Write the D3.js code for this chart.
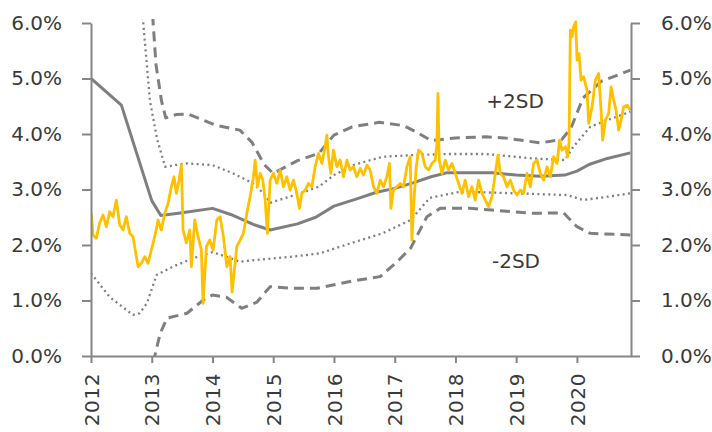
<!DOCTYPE html>
<html>
<head>
<meta charset="utf-8">
<script src="https://cdn.jsdelivr.net/npm/d3@7/dist/d3.min.js"></script>
<style>
  body { margin: 0; background: #fff; }
  text { font-family: "DejaVu Sans", sans-serif; fill: #3a3a3a; }
</style>
</head>
<body>
<div id="chart"></div>
<script>
var width = 712, height = 432;

// x ticks (years) and y ticks (percent)
var yearTicks = [2012, 2013, 2014, 2015, 2016, 2017, 2018, 2019, 2020];
var pctTicks = [0, 1, 2, 3, 4, 5, 6];

// rolling mean and bands, [decimal year, %]
var meanLine = [[2012.0, 5.00], [2012.5, 4.52], [2013.0, 2.80], [2013.15, 2.53], [2013.5, 2.58],
  [2014.0, 2.66], [2014.3, 2.55], [2014.7, 2.36], [2014.95, 2.27], [2015.4, 2.38], [2015.7, 2.50],
  [2016.0, 2.70], [2016.4, 2.84], [2016.7, 2.95], [2017.0, 3.02], [2017.3, 3.12], [2017.6, 3.23],
  [2017.85, 3.30], [2018.2, 3.30], [2018.6, 3.30], [2019.0, 3.26], [2019.4, 3.24], [2019.8, 3.26],
  [2020.0, 3.33], [2020.2, 3.45], [2020.5, 3.56], [2020.88, 3.66]];

var plus2SD = [[2012.98, 7.0], [2013.02, 6.05], [2013.07, 5.25], [2013.16, 4.6], [2013.23, 4.29],
  [2013.4, 4.35], [2013.6, 4.36], [2014.05, 4.16], [2014.45, 4.07], [2014.65, 3.85], [2014.85, 3.45],
  [2015.0, 3.29], [2015.4, 3.52], [2015.75, 3.65], [2016.0, 3.98], [2016.3, 4.13], [2016.75, 4.21],
  [2017.15, 4.15], [2017.35, 4.04], [2017.6, 3.88], [2018.0, 3.93], [2018.5, 3.95], [2018.8, 3.93],
  [2019.4, 3.84], [2019.75, 3.9], [2019.9, 4.1], [2020.1, 4.65], [2020.4, 4.95], [2020.88, 5.15]];

var plus1SD = [[2012.83, 6.3], [2012.86, 6.0], [2012.97, 4.6], [2013.09, 3.9], [2013.22, 3.41],
  [2013.58, 3.47], [2014.0, 3.44], [2014.34, 3.29], [2014.67, 3.11], [2014.84, 2.93], [2014.95, 2.76],
  [2015.44, 2.93], [2015.75, 3.05], [2016.0, 3.26], [2016.32, 3.44], [2016.8, 3.59], [2017.3, 3.62],
  [2017.9, 3.64], [2018.5, 3.64], [2019.28, 3.56], [2019.8, 3.53], [2019.94, 3.77], [2020.22, 4.13],
  [2020.5, 4.25], [2020.88, 4.4]];

var minus1SD = [[2012.0, 1.49], [2012.31, 1.06], [2012.69, 0.74], [2012.8, 0.77], [2012.92, 0.95],
  [2013.08, 1.46], [2013.35, 1.61], [2013.68, 1.76], [2014.0, 1.87], [2014.23, 1.79], [2014.45, 1.70],
  [2015.0, 1.76], [2015.4, 1.80], [2015.77, 1.85], [2016.3, 2.04], [2016.8, 2.21], [2017.26, 2.45],
  [2017.58, 2.85], [2018.08, 2.96], [2018.74, 2.94], [2019.84, 2.90], [2020.1, 2.81], [2020.5, 2.87],
  [2020.88, 2.93]];

var minus2SD = [[2013.0, -0.4], [2013.05, 0], [2013.14, 0.41], [2013.25, 0.68], [2013.58, 0.77],
  [2013.85, 1.01], [2014.0, 1.10], [2014.23, 1.06], [2014.48, 0.86], [2014.73, 0.97], [2014.95, 1.25],
  [2015.28, 1.22], [2015.72, 1.22], [2016.3, 1.35], [2016.76, 1.43], [2017.04, 1.70], [2017.26, 1.94],
  [2017.53, 2.51], [2017.75, 2.66], [2018.24, 2.66], [2018.6, 2.63], [2019.28, 2.57], [2019.78, 2.58],
  [2020.0, 2.33], [2020.22, 2.21], [2020.88, 2.18]];

// the actual series (gold)
var actual = [[2012.005, 2.57], [2012.033, 2.18], [2012.087, 2.12], [2012.143, 2.40], [2012.198, 2.54],
  [2012.252, 2.33], [2012.308, 2.60], [2012.362, 2.51], [2012.417, 2.81], [2012.473, 2.36], [2012.527, 2.27],
  [2012.582, 2.51], [2012.638, 2.21], [2012.692, 2.15], [2012.774, 1.61], [2012.829, 1.67], [2012.885, 1.79],
  [2012.939, 1.67], [2012.993, 1.91], [2013.049, 2.15], [2013.104, 2.45], [2013.158, 2.27], [2013.214, 2.57],
  [2013.269, 2.75], [2013.323, 3.05], [2013.367, 3.23], [2013.405, 2.93], [2013.445, 3.14], [2013.488, 3.44],
  [2013.516, 2.27], [2013.570, 2.04], [2013.626, 2.27], [2013.652, 1.61], [2013.708, 2.45], [2013.763, 2.15],
  [2013.817, 1.91], [2013.845, 0.95], [2013.900, 1.97], [2013.956, 2.09], [2014.010, 1.91], [2014.071, 2.45],
  [2014.125, 2.51], [2014.180, 2.15], [2014.236, 1.61], [2014.290, 1.79], [2014.323, 1.15], [2014.400, 1.97],
  [2014.455, 2.09], [2014.509, 2.21], [2014.565, 2.57], [2014.619, 2.87], [2014.674, 3.23], [2014.702, 3.53],
  [2014.740, 3.05], [2014.784, 3.29], [2014.829, 3.17], [2014.867, 2.81], [2014.904, 2.21], [2014.949, 3.17],
  [2015.003, 3.29], [2015.059, 3.11], [2015.114, 3.35], [2015.168, 3.05], [2015.224, 3.23], [2015.278, 2.99],
  [2015.333, 3.17], [2015.389, 2.93], [2015.432, 2.66], [2015.471, 2.93], [2015.526, 2.99], [2015.580, 3.11],
  [2015.636, 3.05], [2015.690, 3.41], [2015.745, 3.65], [2015.801, 3.47], [2015.855, 3.77], [2015.883, 3.98],
  [2015.909, 3.59], [2015.949, 3.29], [2015.992, 3.71], [2016.048, 3.41], [2016.102, 3.53], [2016.157, 3.23],
  [2016.213, 3.53], [2016.267, 3.35], [2016.321, 3.41], [2016.377, 3.23], [2016.432, 3.38], [2016.486, 3.26],
  [2016.542, 3.44], [2016.596, 3.35], [2016.651, 3.05], [2016.707, 2.93], [2016.761, 3.17], [2016.815, 3.05],
  [2016.871, 3.23], [2016.914, 3.47], [2016.937, 2.66], [2016.980, 2.99], [2017.036, 3.05], [2017.091, 3.11],
  [2017.145, 3.05], [2017.201, 3.41], [2017.255, 3.59], [2017.283, 2.09], [2017.310, 2.69], [2017.354, 3.41],
  [2017.392, 3.71], [2017.448, 3.65], [2017.502, 3.41], [2017.557, 3.35], [2017.613, 3.47], [2017.667, 3.53],
  [2017.695, 3.83], [2017.712, 4.73], [2017.733, 3.53], [2017.778, 3.29], [2017.832, 3.53], [2017.886, 3.35],
  [2017.942, 3.47], [2017.997, 3.29], [2018.051, 3.11], [2018.107, 2.93], [2018.161, 3.17], [2018.216, 2.87],
  [2018.272, 3.05], [2018.326, 2.81], [2018.381, 3.17], [2018.437, 2.93], [2018.491, 2.81], [2018.545, 2.69],
  [2018.601, 2.87], [2018.656, 3.29], [2018.700, 3.62], [2018.738, 3.29], [2018.792, 3.23], [2018.848, 3.05],
  [2018.903, 3.17], [2018.957, 2.99], [2019.013, 2.90], [2019.068, 2.99], [2019.122, 2.93], [2019.178, 3.29],
  [2019.232, 3.05], [2019.287, 3.47], [2019.343, 3.53], [2019.397, 3.29], [2019.451, 3.17], [2019.507, 3.41],
  [2019.562, 3.23], [2019.616, 3.59], [2019.672, 3.47], [2019.715, 3.89], [2019.754, 3.71], [2019.809, 3.77],
  [2019.847, 3.59], [2019.870, 3.86], [2019.891, 5.87], [2019.919, 5.75], [2019.946, 5.93], [2019.979, 6.02],
  [2020.002, 5.33], [2020.035, 5.45], [2020.067, 4.97], [2020.110, 5.03], [2020.166, 4.79], [2020.193, 4.19],
  [2020.249, 4.49], [2020.303, 4.97], [2020.357, 5.09], [2020.397, 4.43], [2020.423, 3.89], [2020.468, 4.25],
  [2020.522, 4.37], [2020.562, 4.85], [2020.605, 4.61], [2020.644, 4.43], [2020.687, 4.07], [2020.726, 4.25],
  [2020.770, 4.49], [2020.825, 4.52], [2020.880, 4.43]];

var margin = {left: 91, right: 81, top: 23, bottom: 76};

var x = d3.scaleLinear()
    .domain([2012, 2020.89])
    .range([margin.left, width - margin.right]);

var y = d3.scaleLinear()
    .domain([0, 6])
    .range([height - margin.bottom, margin.top]);

var svg = d3.select('#chart')
    .append('svg')
    .attr('width', width)
    .attr('height', height);

svg.append('clipPath')
    .attr('id', 'plot')
    .append('rect')
    .attr('x', margin.left)
    .attr('y', margin.top - 4)
    .attr('width', x.range()[1] - margin.left)
    .attr('height', y.range()[0] - margin.top + 4);

var line = d3.line()
    .x(function (d) { return x(d[0]); })
    .y(function (d) { return y(d[1]); });

var lines = svg.append('g').attr('clip-path', 'url(#plot)');

// bands first, the gold series on top
var drawLine = function (data, w, dash, color) {
    lines.append('path')
        .datum(data)
        .attr('d', line)
        .attr('fill', 'none')
        .attr('stroke', color)
        .attr('stroke-width', w)
        .attr('stroke-dasharray', dash)
        .attr('stroke-linejoin', 'round');
};

drawLine(plus1SD, 2.3, '2,3.4', '#7f7f7f');
drawLine(minus1SD, 2.3, '2,3.4', '#7f7f7f');
drawLine(plus2SD, 3, '10,6', '#7f7f7f');
drawLine(minus2SD, 3, '10,6', '#7f7f7f');
drawLine(meanLine, 3, null, '#7f7f7f');
drawLine(actual, 2.8, null, '#ffc000');

// axes
var fmt = function (d) { return d.toFixed(1) + '%'; };

var styleAxis = function (g) {
    g.selectAll('.domain').attr('stroke', '#868686').attr('stroke-width', 2);
    g.selectAll('.tick line').attr('stroke', '#868686').attr('stroke-width', 2);
    g.selectAll('.tick text').style('font-size', '20px').attr('fill', '#3a3a3a');
};

svg.append('g')
    .attr('transform', 'translate(' + margin.left + ',0)')
    .call(d3.axisLeft(y).tickValues(pctTicks).tickFormat(fmt).tickSize(9).tickSizeOuter(0).tickPadding(20))
    .call(styleAxis);

svg.append('g')
    .attr('transform', 'translate(' + x.range()[1] + ',0)')
    .call(d3.axisRight(y).tickValues(pctTicks).tickFormat(fmt).tickSize(9).tickSizeOuter(0).tickPadding(21))
    .call(styleAxis);

var xAxis = svg.append('g')
    .attr('transform', 'translate(0,' + y(0) + ')')
    .call(d3.axisBottom(x).tickValues(yearTicks).tickFormat(d3.format('d')).tickSize(7).tickSizeOuter(0))
    .call(styleAxis);

xAxis.selectAll('.tick text')
    .attr('transform', 'translate(0,17) rotate(-90)')
    .attr('x', 0)
    .attr('y', 0)
    .attr('dy', '0.36em')
    .style('text-anchor', 'end')
    .style('letter-spacing', '0.6px');

// band labels
svg.append('text')
    .attr('x', 515)
    .attr('y', 101)
    .attr('dy', '0.36em')
    .attr('text-anchor', 'middle')
    .style('font-size', '20px')
    .text('+2SD');

svg.append('text')
    .attr('x', 516)
    .attr('y', 261)
    .attr('dy', '0.36em')
    .attr('text-anchor', 'middle')
    .style('font-size', '20px')
    .text('-2SD');
</script>
</body>
</html>
